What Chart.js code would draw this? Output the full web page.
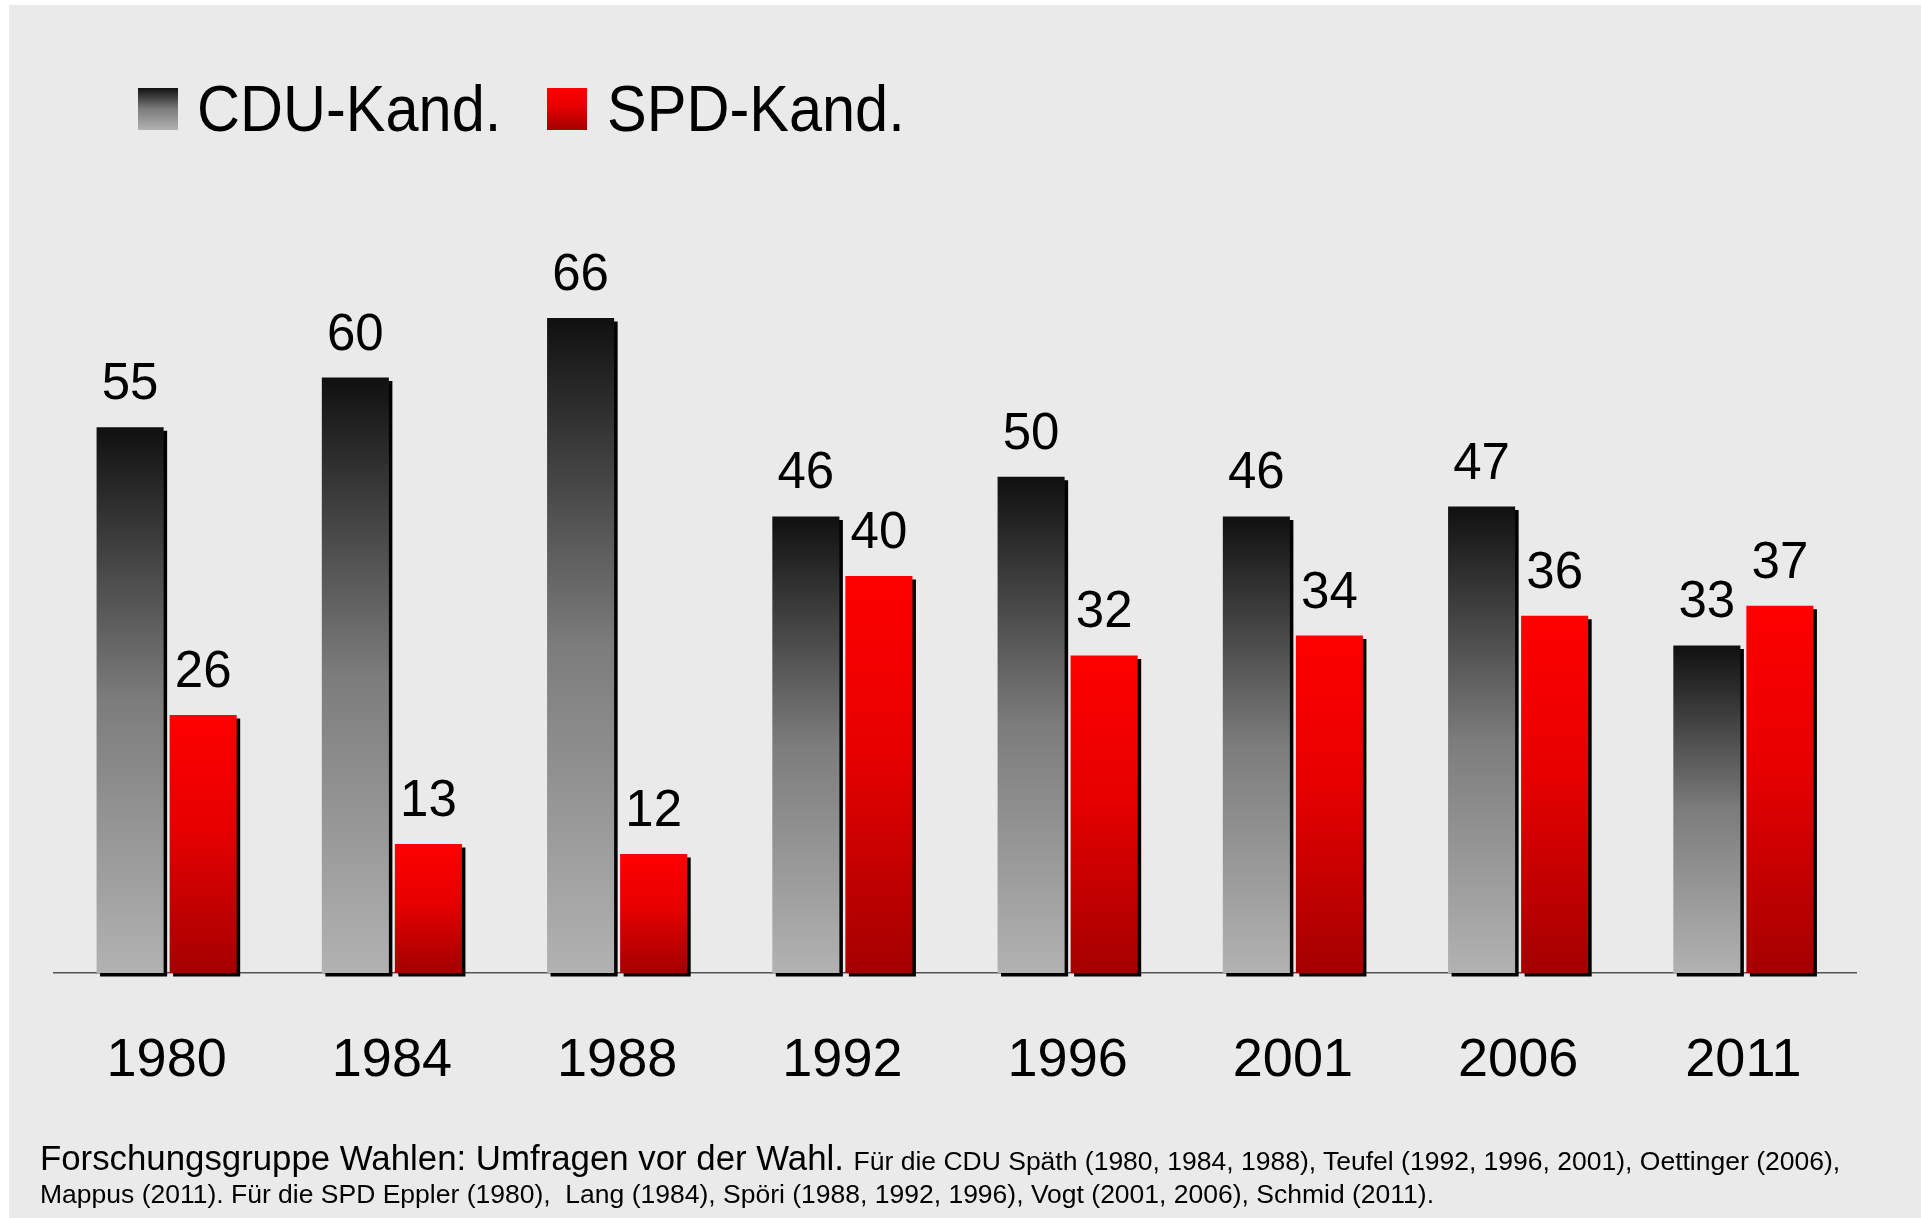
<!DOCTYPE html>
<html lang="de">
<head>
<meta charset="utf-8">
<title>CDU- und SPD-Kandidaten</title>
<script src="https://cdn.jsdelivr.net/npm/chart.js@4.4.1/dist/chart.umd.min.js"></script>
<style>
    html, body {
        margin: 0;
        padding: 0;
        background: #ffffff;
    }
    #page {
        position: relative;
        width: 1921px;
        height: 1218px;
        overflow: hidden;
        font-family: 'Liberation Sans', Arial, sans-serif;
        color: #000;
    }
    #panel {
        position: absolute;
        left: 9px;
        top: 5px;
        right: 0;
        bottom: 0;
        background: #eaeaea;
    }
    #chart {
        position: absolute;
        left: 0;
        top: 0;
    }
    .legend-box {
        position: absolute;
        top: 88px;
        width: 40px;
        height: 42px;
    }
    .legend-text {
        position: absolute;
        top: 77px;
        font-size: 64px;
        line-height: 64px;
        white-space: nowrap;
        transform: scaleX(0.93);
        transform-origin: left center;
    }
    #footer {
        position: absolute;
        left: 40px;
        top: 1141px;
        font-size: 34.8px;
    }
    #footer div {
        height: 33px;
        line-height: 33px;
        white-space: nowrap;
    }
    #footer .small {
        font-size: 26.5px;
    }
</style>
</head>
<body>
<div id="page">
    <div id="panel"></div>
    <canvas id="chart" width="1921" height="1218"></canvas>
    <div id="legend"></div>
    <div id="footer">
        <div>Forschungsgruppe Wahlen: Umfragen vor der Wahl. <span class="small">Für die CDU Späth (1980, 1984, 1988), Teufel (1992, 1996, 2001), Oettinger (2006),</span></div>
        <div><span class="small">Mappus (2011). Für die SPD Eppler (1980),&nbsp; Lang (1984), Spöri (1988, 1992, 1996), Vogt (2001, 2006), Schmid (2011).</span></div>
    </div>
</div>
<script>
const years = ['1980', '1984', '1988', '1992', '1996', '2001', '2006', '2011'];
const cduValues = [55, 60, 66, 46, 50, 46, 47, 33];
const spdValues = [26, 13, 12, 40, 32, 34, 36, 37];
const seriesNames = ['CDU-Kand.', 'SPD-Kand.'];

const cduStops = [[0, '#101010'], [0.5, '#7c7c7c'], [1, '#b2b2b2']];
const spdStops = [[0, '#ff0000'], [0.45, '#e60000'], [1, '#a40000']];

function barGradient(context, stops) {
    const chart = context.chart;
    const { chartArea, scales } = chart;
    if (!chartArea || context.raw == null) return stops[0][1];
    const top = scales.y.getPixelForValue(context.raw);
    const bottom = scales.y.getPixelForValue(0);
    const g = chart.ctx.createLinearGradient(0, top, 0, bottom);
    stops.forEach(([o, c]) => g.addColorStop(o, c));
    return g;
}

function cssGradient(stops) {
    return 'linear-gradient(to bottom, ' + stops.map(([o, c]) => `${c} ${o * 100}%`).join(', ') + ')';
}

// Legend as plain DOM, like the original slide
function buildLegend() {
    const legend = document.getElementById('legend');
    const boxLeft = [138, 547];
    const textLeft = [197, 607];
    [cduStops, spdStops].forEach((stops, i) => {
        const box = document.createElement('div');
        box.className = 'legend-box';
        box.style.left = boxLeft[i] + 'px';
        box.style.background = cssGradient(stops);
        legend.appendChild(box);

        const text = document.createElement('div');
        text.className = 'legend-text';
        text.style.left = textLeft[i] + 'px';
        text.textContent = seriesNames[i];
        legend.appendChild(text);
    });
}

// Hard black drop shadow behind every bar
const barShadow = {
    id: 'barShadow',
    beforeDatasetsDraw(chart) {
        const ctx = chart.ctx;
        ctx.save();
        ctx.shadowColor = '#000000';
        ctx.shadowOffsetX = 3.5;
        ctx.shadowOffsetY = 3.5;
        ctx.shadowBlur = 0;
    },
    afterDatasetsDraw(chart) {
        chart.ctx.restore();
    }
};

// Values written above the bars
const valueLabels = {
    id: 'valueLabels',
    afterDatasetsDraw(chart) {
        const ctx = chart.ctx;
        ctx.save();
        ctx.font = '51px "Liberation Sans", Arial, sans-serif';
        ctx.fillStyle = '#000';
        ctx.textAlign = 'center';
        ctx.textBaseline = 'alphabetic';
        chart.data.datasets.forEach((ds, di) => {
            const meta = chart.getDatasetMeta(di);
            meta.data.forEach((bar, i) => {
                ctx.fillText(String(ds.data[i]), bar.x, bar.y - 28);
            });
        });
        ctx.restore();
    }
};

document.addEventListener('DOMContentLoaded', () => {
    buildLegend();

    Chart.defaults.font.family = '"Liberation Sans", Arial, sans-serif';
    Chart.defaults.color = '#000';

    const ctx = document.getElementById('chart').getContext('2d');
    new Chart(ctx, {
        type: 'bar',
        data: {
            labels: years,
            datasets: [{
                label: seriesNames[0],
                data: cduValues,
                backgroundColor: (c) => barGradient(c, cduStops),
                borderWidth: 0,
                clip: false
            }, {
                label: seriesNames[1],
                data: spdValues,
                backgroundColor: (c) => barGradient(c, spdStops),
                borderWidth: 0,
                clip: false
            }]
        },
        options: {
            responsive: false,
            animation: false,
            devicePixelRatio: 1,
            layout: {
                padding: { left: 54, right: 65, top: 179, bottom: 135 }
            },
            datasets: {
                bar: {
                    categoryPercentage: 0.6486,
                    barPercentage: 0.918
                }
            },
            plugins: {
                legend: { display: false },
                tooltip: { enabled: false }
            },
            scales: {
                x: {
                    grid: { display: false, drawTicks: false },
                    border: { display: true, color: '#555555', width: 1.5 },
                    ticks: {
                        font: { size: 54 },
                        color: '#000',
                        padding: 56,
                        maxRotation: 0
                    },
                    afterFit(scale) {
                        scale.height = 110;
                    }
                },
                y: {
                    display: false,
                    min: 0,
                    max: 80
                }
            }
        },
        plugins: [barShadow, valueLabels]
    });
});
</script>
</body>
</html>
